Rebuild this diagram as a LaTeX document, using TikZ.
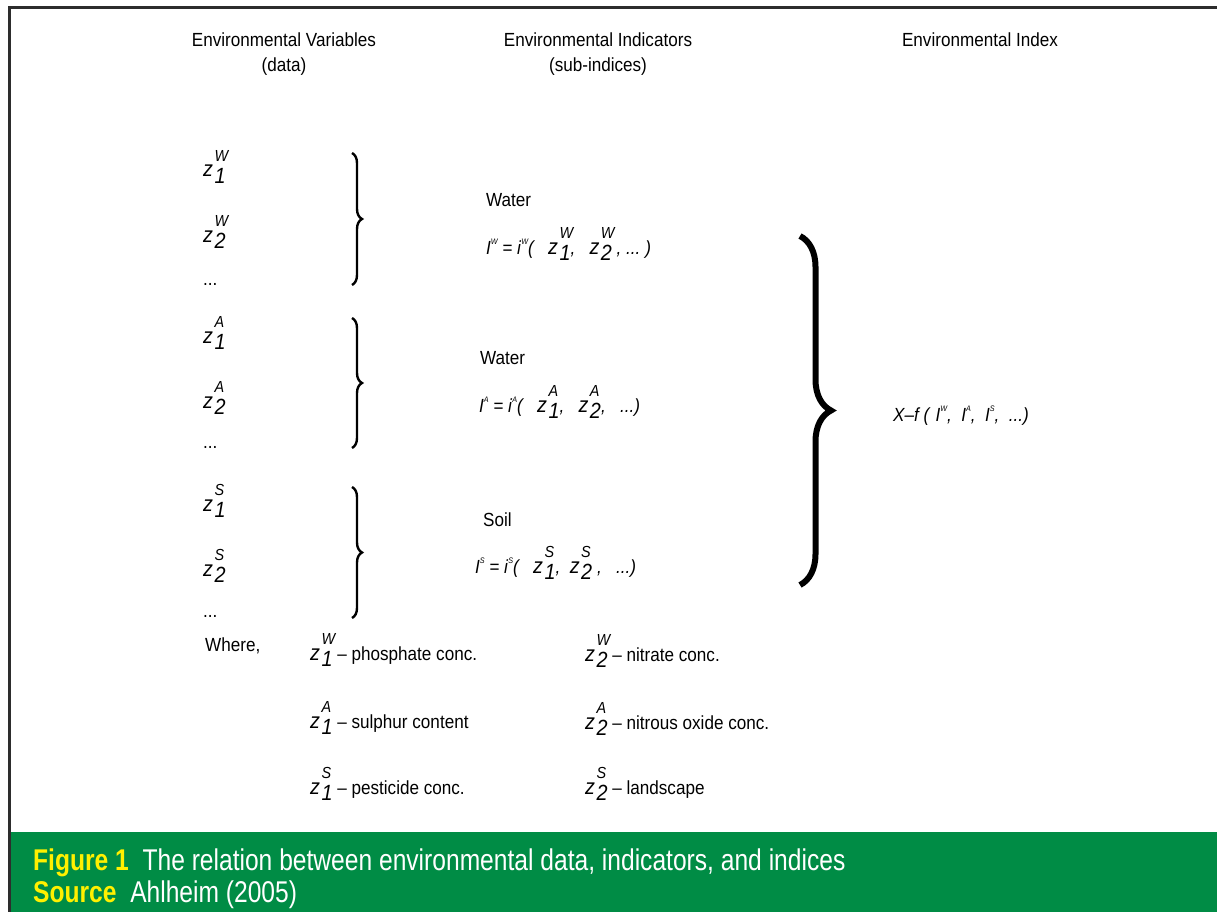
\documentclass[tikz,border=0pt]{standalone}
\usepackage{fontspec}
\setmainfont{Liberation Sans}[FakeStretch=0.9]
\newfontfamily\capfont{Liberation Sans}[FakeStretch=0.82]
\usepackage{xcolor}
\usetikzlibrary{decorations.pathreplacing}
\definecolor{bandgreen}{RGB}{0,140,69}
\definecolor{capyellow}{RGB}{255,240,0}
\definecolor{rulegray}{RGB}{45,45,45}
% z with stacked super- and subscript
\newcommand{\zv}[2]{{\fontsize{22}{22}\selectfont\textit{z}\kern1.5pt\rlap{\raisebox{0.7em}{\fontsize{16}{16}\selectfont\itshape #1}}\raisebox{-0.3em}{\itshape #2}}}
% index letter with tiny superscript
\newcommand{\ix}[2]{\textit{#1}\raisebox{0.5em}{\fontsize{8}{8}\selectfont\itshape #2}}

\begin{document}
\begin{tikzpicture}[x=1pt, y=-1pt,
  every node/.style={inner sep=0pt},
  head/.style={anchor=base, font=\fontsize{19}{21}\selectfont},
  txt/.style={anchor=base west, font=\fontsize{19}{21}\selectfont},
  smallbrace/.style={decorate, decoration={brace, amplitude=10pt}, line width=2.4pt},
  bigbrace/.style={decorate, decoration={brace, amplitude=31pt}, line width=6pt}]
  \useasboundingbox (0,0) rectangle (1217,912);
  % frame and caption band
  \fill[bandgreen] (10,832) rectangle (1217,912);
  \draw[rulegray, line width=3pt] (1217,8) -- (9,8) -- (9,912);
  % column heads
  \node[head] (hvar) at (284,47) {Environmental Variables};
  \node[head] (hvar2) at (284,72) {(data)};
  \node[head] (hind) at (598,47) {Environmental Indicators};
  \node[head] (hind2) at (598,72) {(sub-indices)};
  \node[head] (hidx) at (980,47) {Environmental Index};
  % variables
  \node[txt] (zw1) at (203,177) {\zv{W}{1}};
  \node[txt] (zw2) at (203,242) {\zv{W}{2}};
  \node[txt] (zwd) at (203,285) {...};
  \node[txt] (za1) at (203,343) {\zv{A}{1}};
  \node[txt] (za2) at (203,408) {\zv{A}{2}};
  \node[txt] (zad) at (203,448) {...};
  \node[txt] (zs1) at (203,511) {\zv{S}{1}};
  \node[txt] (zs2) at (203,576) {\zv{S}{2}};
  \node[txt] (zsd) at (203,617) {...};
  \draw[smallbrace] (352,153) -- (352,285);
  \draw[smallbrace] (352,318) -- (352,448);
  \draw[smallbrace] (352,487) -- (352,618);
  % indicators
  \node[txt] (lw) at (486,206) {Water};
  \node[txt] (iw) at (486,254) {\ix{I}{W} = \ix{i}{W}\textit{(\ \ \ }\zv{W}{1}\textit{,\ \ \ }\zv{W}{2}\textit{\ , ...\ )}};
  \node[txt] (la) at (480,364) {Water};
  \node[txt] (ia) at (479,412) {\ix{I}{A} = \ix{i}{A}\textit{(\ \ \ }\zv{A}{1}\textit{,\ \ \ }\zv{A}{2}\textit{,\ \ \ ...)}};
  \node[txt] (ls) at (483,526) {Soil};
  \node[txt] (is) at (475,573) {\ix{I}{S} = \ix{i}{S}\textit{(\ \ \ }\zv{S}{1}\textit{,\ \ }\zv{S}{2}\textit{\ ,\ \ \ ...)}};
  \draw[bigbrace] (800,236) -- (800,585);
  % index
  \node[txt] (xf) at (893,421) {\textit{X--f (\ }\ix{I}{W}\textit{,\ \ }\ix{I}{A}\textit{,\ \ }\ix{I}{S}\textit{,\ \ ...)}};
  % legend
  \node[txt] (where) at (205,651) {Where,};
  \node[txt] (d1) at (310,660) {\zv{W}{1} -- phosphate conc.};
  \node[txt] (d2) at (310,728) {\zv{A}{1} -- sulphur content};
  \node[txt] (d3) at (310,794) {\zv{S}{1} -- pesticide conc.};
  \node[txt] (d4) at (585,661) {\zv{W}{2} -- nitrate conc.};
  \node[txt] (d5) at (585,729) {\zv{A}{2} -- nitrous oxide conc.};
  \node[txt] (d6) at (585,794) {\zv{S}{2} -- landscape};
  % caption
  \node[anchor=base west, text=white, font=\capfont\fontsize{30}{32}\selectfont] (cap1) at (33,870)
    {\textbf{\color{capyellow}Figure 1}\ \ The relation between environmental data, indicators, and indices};
  \node[anchor=base west, text=white, font=\capfont\fontsize{30}{32}\selectfont] (cap2) at (33,902)
    {\textbf{\color{capyellow}Source}\ \ Ahlheim (2005)};
\end{tikzpicture}
\end{document}
